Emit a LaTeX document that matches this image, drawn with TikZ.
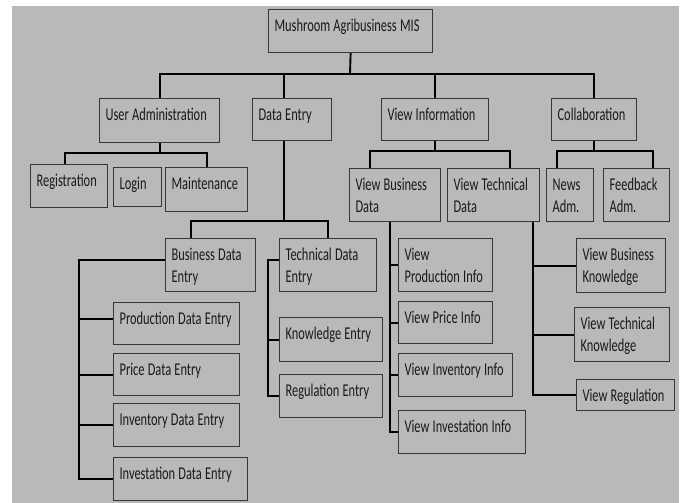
\documentclass[tikz,border=0pt]{standalone}
\usepackage{xcolor}
\usepackage{fontspec}
\setmainfont{Carlito}[FakeStretch=0.69]
\usepackage{tikz}
\usetikzlibrary{positioning}

\definecolor{bggray}{RGB}{185,185,185}
\definecolor{boxline}{RGB}{55,55,55}
\definecolor{textgray}{RGB}{25,25,25}
\hyphenpenalty=10000
\exhyphenpenalty=10000
\newcommand{\boxfont}{\fontsize{18bp}{21.7bp}\selectfont}
\newcommand{\narrowspace}{\spaceskip=3.2bp plus 1bp minus 0.5bp\relax}

\begin{document}
\begin{tikzpicture}[x=1bp, y=-1bp,
				box/.style={draw=boxline, fill=bggray, line width=1.2bp,
					anchor=north west, align=left, inner xsep=6bp, inner ysep=0pt,
					text height=22bp, text=textgray, font=\boxfont,
					execute at begin node=\narrowspace},
				conn/.style={black, line width=1.9bp}]
				\useasboundingbox (0,0) rectangle (683,503);
				\fill[white] (0,0) rectangle (683,503);
				\fill[bggray] (12,6) rectangle (679,503);
				% top levels
				\node at (268,9) (root) [box, text width=152bp, text depth=21bp] {Mushroom Agribusiness MIS};
				\node at (99,98) (useradm) [box, text width=108bp, text depth=22bp] {User Administration};
				\node at (252,98) (dataentry) [box, text width=67bp, text depth=20bp] {Data Entry};
				\node at (381,98) (viewinfo) [box, text width=95bp, text depth=20bp] {View Information};
				\node at (551,98) (collab) [box, text width=73bp, text depth=20bp] {Collaboration};
				% user administration
				\node at (30,164) (regist) [box, text width=65bp, text depth=21bp] {Registration};
				\node at (113,167) (login) [box, text width=36bp, text depth=17bp] {Login};
				\node at (165,167) (maint) [box, text width=70bp, text depth=22bp] {Maintenance};
				% data entry
				\node at (165,238) (bizentry) [box, text width=78bp, text depth=31bp] {Business Data\\Entry};
				\node at (279,238) (techentry) [box, text width=85bp, text depth=31bp] {Technical Data\\Entry};
				\node at (113,302) (prodentry) [box, text width=114bp, text depth=20bp] {Production Data Entry};
				\node at (113,353) (priceentry) [box, text width=114bp, text depth=20bp] {Price Data Entry};
				\node at (113,403) (invententry) [box, text width=114bp, text depth=21bp] {Inventory Data Entry};
				\node at (113,457) (investentry) [box, text width=122bp, text depth=21bp] {Investation Data Entry};
				\node at (279,317) (knowentry) [box, text width=91bp, text depth=22bp] {Knowledge Entry};
				\node at (279,374) (regentry) [box, text width=91bp, text depth=21bp] {Regulation Entry};
				% view information
				\node at (349,168) (vbizdata) [box, text width=79bp, text depth=31bp] {View Business\\Data};
				\node at (447,168) (vtechdata) [box, text width=80bp, text depth=31bp] {View Technical\\Data};
				\node at (398,238) (vprodinfo) [box, text width=82bp, text depth=31bp] {View\\Production Info};
				\node at (398,301) (vpriceinfo) [box, text width=82bp, text depth=20bp] {View Price Info};
				\node at (398,353) (vinventinfo) [box, text width=102bp, text depth=21bp] {View Inventory Info};
				\node at (398,410) (vinvestinfo) [box, text width=115bp, text depth=21bp] {View Investation Info};
				\node at (576,238) (vbizknow) [box, text width=77bp, text depth=32bp] {View Business\\Knowledge};
				\node at (574,307) (vtechknow) [box, text width=83bp, text depth=32bp] {View Technical\\Knowledge};
				\node at (576,379) (vreg) [box, text width=86bp, text depth=9bp] {View Regulation};
				% collaboration
				\node at (546,168) (news) [box, text width=35bp, text depth=31bp] {News\\Adm.};
				\node at (603,168) (feedback) [box, text width=54bp, text depth=31bp] {Feedback\\Adm.};
				% tree lines
				\coordinate (topbus) at (350,74);
				\draw[conn] (root.south) -- (topbus);
				\draw[conn] (useradm.north) |- (topbus) -| (collab.north);
				\draw[conn] ([xshift=-8bp]dataentry.north) |- (topbus);
				\draw[conn] (viewinfo.north) |- (topbus);
				\draw[conn] (useradm.south) -- ++(0,10) coordinate (uabus);
				\draw[conn] ([xshift=-4bp]regist.north) |- (uabus) -| (maint.north);
				\draw[conn] ([xshift=-8bp]dataentry.south) -- ++(0,80) coordinate (debus);
				\draw[conn] ([xshift=-20bp]bizentry.north) |- (debus) -| (techentry.north);
				\draw[conn] (viewinfo.south) -- ++(0,10) coordinate (vibus);
				\draw[conn] ([xshift=-25bp]vbizdata.north) |- (vibus) -| ([xshift=16bp]vtechdata.north);
				\draw[conn] (collab.south) -- ++(0,10) coordinate (colbus);
				\draw[conn] ([xshift=-13bp]news.north) |- (colbus) -| ([xshift=16bp]feedback.north);
				% side lines
				\draw[conn] ([yshift=5bp]bizentry.west) -| ([xshift=-34bp]prodentry.west) |- (investentry.west);
				\draw[conn] ([yshift=5bp]prodentry.west) -- ++(-34,0);
				\draw[conn] (priceentry.west) -- ++(-34,0);
				\draw[conn] (invententry.west) -- ++(-34,0);
				\draw[conn] ([yshift=5bp]techentry.west) -| ([xshift=-11bp]knowentry.west) |- (regentry.west);
				\draw[conn] (knowentry.west) -- ++(-11,0);
				\draw[conn] ([xshift=-5bp]vbizdata.south) |- (vinvestinfo.west);
				\draw[conn] (vprodinfo.west) -- ++(-9,0);
				\draw[conn] (vpriceinfo.west) -- ++(-9,0);
				\draw[conn] (vinventinfo.west) -- ++(-9,0);
				\draw[conn] ([xshift=39bp]vtechdata.south) |- (vreg.west);
				\draw[conn] (vbizknow.west) -- ++(-44,0);
				\draw[conn] (vtechknow.west) -- ++(-42,0);
			\end{tikzpicture}
\end{document}
